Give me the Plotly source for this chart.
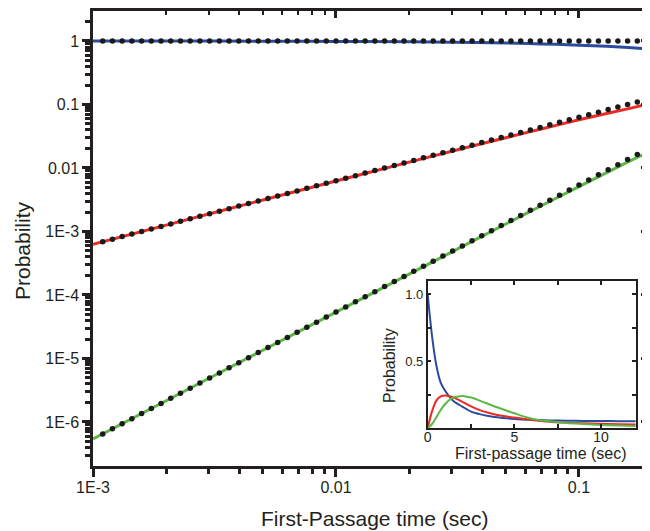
import plotly.graph_objects as go

# ---------------- data ----------------
# main panel, solid curves
T_MAIN = [0.001, 0.002, 0.005, 0.01, 0.02, 0.03, 0.05, 0.07, 0.1, 0.13, 0.16, 0.19]
BLUE_MAIN = [0.999, 0.997, 0.993, 0.985, 0.97, 0.956, 0.928, 0.90, 0.86, 0.823, 0.787, 0.752]
RED_MAIN = [6.3e-4, 1.26e-3, 3.13e-3, 6.24e-3, 1.236e-2, 1.836e-2, 3.0e-2, 4.12e-2, 5.73e-2,
            7.2e-2, 8.6e-2, 0.100]
GREEN_MAIN = [5.4e-7, 2.16e-6, 1.35e-5, 5.37e-5, 2.13e-4, 4.77e-4, 1.31e-3, 2.54e-3, 5.1e-3,
              8.45e-3, 1.26e-2, 1.73e-2]

# main panel, dotted approximations
DOT_T = [
    1.0965e-3, 1.2023e-3, 1.3183e-3, 1.4454e-3, 1.5849e-3, 1.7378e-3, 1.9055e-3, 2.0893e-3,
    2.2909e-3, 2.5119e-3, 2.7542e-3, 3.0200e-3, 3.3113e-3, 3.6308e-3, 3.9811e-3, 4.3652e-3,
    4.7863e-3, 5.2481e-3, 5.7544e-3, 6.3096e-3, 6.9183e-3, 7.5858e-3, 8.3176e-3, 9.1201e-3, 1.0e-2,
    1.0965e-2, 1.2023e-2, 1.3183e-2, 1.4454e-2, 1.5849e-2, 1.7378e-2, 1.9055e-2, 2.0893e-2,
    2.2909e-2, 2.5119e-2, 2.7542e-2, 3.0200e-2, 3.3113e-2, 3.6308e-2, 3.9811e-2, 4.3652e-2,
    4.7863e-2, 5.2481e-2, 5.7544e-2, 6.3096e-2, 6.9183e-2, 7.5858e-2, 8.3176e-2, 9.1201e-2, 1.0e-1,
    0.10965, 0.12023, 0.13183, 0.14454, 0.15849, 0.17378, 0.19055,
]
DOT_BLUE = [1.0] * 57
DOT_RED = [
    6.91e-4, 7.57e-4, 8.31e-4, 9.11e-4, 9.99e-4, 1.095e-3, 1.20e-3, 1.316e-3, 1.443e-3,
    1.583e-3, 1.735e-3, 1.903e-3, 2.086e-3, 2.287e-3, 2.508e-3, 2.750e-3, 3.015e-3, 3.306e-3,
    3.625e-3, 3.975e-3, 4.358e-3, 4.779e-3, 5.240e-3, 5.746e-3, 6.30e-3,
    6.91e-3, 7.57e-3, 8.31e-3, 9.11e-3, 9.99e-3, 1.095e-2, 1.20e-2, 1.316e-2, 1.443e-2,
    1.583e-2, 1.735e-2, 1.903e-2, 2.086e-2, 2.287e-2, 2.508e-2, 2.750e-2, 3.015e-2, 3.306e-2,
    3.625e-2, 3.975e-2, 4.358e-2, 4.779e-2, 5.240e-2, 5.746e-2, 6.30e-2,
    6.91e-2, 7.57e-2, 8.31e-2, 9.11e-2, 9.99e-2, 0.1095, 0.120,
]
DOT_GREEN = [
    6.49e-7, 7.81e-7, 9.38e-7, 1.128e-6, 1.356e-6, 1.631e-6, 1.961e-6, 2.357e-6, 2.834e-6,
    3.407e-6, 4.096e-6, 4.925e-6, 5.921e-6, 7.119e-6, 8.559e-6, 1.029e-5, 1.237e-5, 1.487e-5,
    1.788e-5, 2.150e-5, 2.585e-5, 3.107e-5, 3.736e-5, 4.492e-5, 5.40e-5,
    6.49e-5, 7.81e-5, 9.38e-5, 1.128e-4, 1.356e-4, 1.631e-4, 1.961e-4, 2.357e-4, 2.834e-4,
    3.407e-4, 4.096e-4, 4.925e-4, 5.921e-4, 7.119e-4, 8.559e-4, 1.029e-3, 1.237e-3, 1.487e-3,
    1.788e-3, 2.150e-3, 2.585e-3, 3.107e-3, 3.736e-3, 4.492e-3, 5.40e-3,
    6.49e-3, 7.81e-3, 9.38e-3, 1.128e-2, 1.356e-2, 1.631e-2, 1.961e-2,
]

# inset (linear axes)
T_INSET = [0, 0.25, 0.5, 0.75, 1, 1.25, 1.5, 2, 2.5, 3, 3.5, 4, 5, 6, 7, 8, 9, 10, 11, 12]
BLUE_INSET = [1.0, 0.69, 0.47, 0.34, 0.28, 0.235, 0.2, 0.16, 0.123, 0.104, 0.09, 0.08, 0.068,
              0.061, 0.057, 0.055, 0.053, 0.052, 0.051, 0.05]
RED_INSET = [0.0, 0.124, 0.205, 0.236, 0.243, 0.238, 0.228, 0.196, 0.162, 0.134, 0.114, 0.098,
             0.078, 0.06, 0.047, 0.04, 0.035, 0.031, 0.028, 0.026]
GREEN_INSET = [0.0, 0.03, 0.08, 0.135, 0.178, 0.21, 0.228, 0.24, 0.228, 0.205, 0.18, 0.155,
               0.11, 0.07, 0.05, 0.038, 0.03, 0.023, 0.018, 0.015]

# tick labels
X_TICKS = [0.001, 0.01, 0.1]
X_TICKTEXT = ["1E-3", "0.01", "0.1"]
Y_TICKS = [1e-6, 1e-5, 1e-4, 1e-3, 0.01, 0.1, 1]
Y_TICKTEXT = ["1E-6", "1E-5", "1E-4", "1E-3", "0.01", "0.1", "1"]
INSET_X_TICKS = [0, 5, 10]
INSET_Y_TICKS = [0.5, 1.0]
INSET_Y_TICKTEXT = ["0.5", "1.0"]

# ---------------- style ----------------
BLUE = "#2b4c9e"
RED = "#ee2a24"
GREEN = "#5cb846"
INK = "#231f20"
FONT = "Liberation Sans, Arial, sans-serif"

X_MINOR = [k * 10.0 ** e for e in (-3, -2, -1) for k in range(2, 10) if k * 10.0 ** e < 0.192]
Y_MINOR = [k * 10.0 ** e for e in range(-7, 1) for k in range(2, 10)]

fig = go.Figure()

for y, c in ((BLUE_MAIN, BLUE), (RED_MAIN, RED), (GREEN_MAIN, GREEN)):
    fig.add_trace(go.Scatter(x=T_MAIN, y=y, mode="lines", line=dict(color=c, width=3, shape="spline"),
                             hoverinfo="skip", showlegend=False))
for y in (DOT_BLUE, DOT_RED, DOT_GREEN):
    fig.add_trace(go.Scatter(x=DOT_T, y=y, mode="markers",
                             marker=dict(color="#1a1a1a", size=5.5, line=dict(width=0)),
                             hoverinfo="skip", showlegend=False))

# empty trace to host mirrored (inward-tick) axes
fig.add_trace(go.Scatter(x=[], y=[], xaxis="x2", yaxis="y2", showlegend=False, hoverinfo="skip"))

for y, c in ((BLUE_INSET, BLUE), (RED_INSET, RED), (GREEN_INSET, GREEN)):
    fig.add_trace(go.Scatter(x=T_INSET, y=y, mode="lines", xaxis="x3", yaxis="y3",
                             line=dict(color=c, width=2, shape="spline", smoothing=0.8),
                             hoverinfo="skip", showlegend=False))

XR = [-3, -0.716]
YR = [-6.693, 0.472]

base = dict(type="log", showgrid=False, zeroline=False, showline=True, linecolor=INK,
            linewidth=2.5, tickcolor=INK, tickwidth=2.5)

# the page body adds an 8px offset; figure size / margins compensate for it
fig.update_layout(
    width=642, height=523,
    margin=dict(l=85, r=2, t=3, b=65, pad=0),
    paper_bgcolor="white", plot_bgcolor="white",
    font=dict(family=FONT, color=INK),
    showlegend=False,
    xaxis=dict(**base, range=XR, anchor="y", ticks="outside", ticklen=8, ticklabelstandoff=-3,
               tickvals=X_TICKS, ticktext=X_TICKTEXT, tickfont=dict(size=16, family=FONT, color=INK),
               minor=dict(tickvals=X_MINOR, ticks="outside", ticklen=5, tickwidth=2.5, tickcolor=INK)),
    yaxis=dict(**base, range=YR, anchor="x", ticks="outside", ticklen=8,
               tickvals=Y_TICKS, ticktext=Y_TICKTEXT, tickfont=dict(size=16, family=FONT, color=INK),
               minor=dict(tickvals=Y_MINOR, ticks="outside", ticklen=5, tickwidth=2.5, tickcolor=INK)),
    xaxis2=dict(**base, range=XR, overlaying="x", side="top", anchor="y2", ticks="inside", ticklen=7,
                tickvals=X_TICKS, showticklabels=False,
                minor=dict(tickvals=X_MINOR, ticks="inside", ticklen=4, tickwidth=2, tickcolor=INK)),
    yaxis2=dict(**base, range=YR, overlaying="y", side="right", anchor="x2", ticks="inside", ticklen=7,
                tickvals=Y_TICKS, showticklabels=False,
                minor=dict(tickvals=Y_MINOR, ticks="inside", ticklen=4, tickwidth=2, tickcolor=INK)),
    xaxis3=dict(domain=[0.603, 0.978], anchor="y3", range=[0, 12], showgrid=False, zeroline=False,
                showline=True, linecolor=INK, linewidth=1.5, mirror="allticks",
                ticks="inside", ticklen=4, tickwidth=1.5, tickcolor=INK, ticklabelstandoff=-5,
                tickvals=INSET_X_TICKS, tickfont=dict(size=14, family=FONT, color=INK),
                minor=dict(tickvals=[2.5, 7.5], ticks="inside", ticklen=4, tickwidth=1.5, tickcolor=INK)),
    yaxis3=dict(domain=[0.0835, 0.4066], anchor="x3", range=[0, 1.1], showgrid=False, zeroline=False,
                showline=True, linecolor=INK, linewidth=1.5, mirror="allticks",
                ticks="inside", ticklen=4, tickwidth=1.5, tickcolor=INK,
                tickvals=INSET_Y_TICKS, ticktext=INSET_Y_TICKTEXT,
                tickfont=dict(size=13, family=FONT, color=INK),
                minor=dict(tickvals=[0.25, 0.75], ticks="inside", ticklen=4, tickwidth=1.5, tickcolor=INK)),
    annotations=[
        dict(text="First-Passage time (sec)", xref="paper", yref="paper", x=0.5081, y=-0.1143,
             xanchor="center", yanchor="middle", showarrow=False, font=dict(size=21, family=FONT, color=INK)),
        dict(text="Probability", xref="paper", yref="paper", x=-0.1279, y=0.4725, textangle=-90,
             xanchor="center", yanchor="middle", showarrow=False, font=dict(size=21, family=FONT, color=INK)),
        dict(text="First-passage time (sec)", xref="paper", yref="paper", x=0.8072, y=0.0265,
             xanchor="center", yanchor="middle", showarrow=False, font=dict(size=16, family=FONT, color=INK)),
        dict(text="Probability", xref="paper", yref="paper", x=0.5351, y=0.2220, textangle=-90,
             xanchor="center", yanchor="middle", showarrow=False, font=dict(size=16, family=FONT, color=INK)),
    ],
)

fig.write_html("out.html")
